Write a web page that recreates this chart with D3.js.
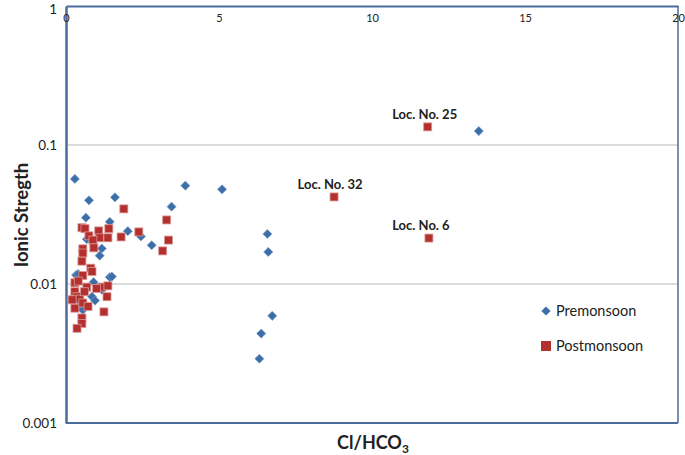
<!DOCTYPE html>
<html><head><meta charset="utf-8">
<script src="https://cdn.jsdelivr.net/npm/d3@7"></script>
<style>body{margin:0;background:#fff}svg{display:block}text{font-family:Lato,"Open Sans",sans-serif}</style>
</head><body><svg id="c" width="685" height="455"></svg>
<script>
const xTicks = [0, 5, 10, 15, 20];
const yTicks = [1, 0.1, 0.01, 0.001];
const yTickLabels = ["1", "0.1", "0.01", "0.001"];
const premX = [0.29,0.75,1.6,0.65,3.9,3.45,5.1,2.02,1.43,2.45,2.8,0.68,1.17,1.1,0.33,0.9,1.43,1.17,0.85,0.42,0.55,0.4,0.95,1.5,0.25,6.58,6.61,6.74,6.38,6.32,13.49];
const premY = [0.057,0.040,0.042,0.030,0.051,0.036,0.048,0.024,0.028,0.022,0.019,0.021,0.018,0.016,0.0116,0.0103,0.0112,0.0091,0.0081,0.0069,0.0065,0.0118,0.0076,0.0113,0.0075,0.0229,0.0170,0.0059,0.0044,0.0029,0.126];
const postX = [11.82,8.76,11.86,1.89,3.29,2.38,3.35,3.16,0.52,0.62,0.75,1.07,1.4,1.1,1.37,1.8,0.88,0.55,0.91,0.55,0.52,0.81,0.55,0.29,0.68,0.29,1.17,1.37,1.34,0.36,0.45,0.29,0.55,0.72,1.24,0.52,0.52,0.36,0.2,0.6,0.85,0.4,1.0];
const postY = [0.135,0.0423,0.0214,0.0347,0.0289,0.0237,0.0207,0.0173,0.0254,0.0250,0.0222,0.0241,0.0250,0.0215,0.0215,0.0218,0.0207,0.0179,0.0182,0.0167,0.0146,0.0130,0.0115,0.0102,0.0095,0.0088,0.0095,0.0097,0.0081,0.0081,0.0078,0.0067,0.0073,0.0069,0.0063,0.0057,0.0052,0.0048,0.0077,0.0088,0.0123,0.0105,0.0093];
const labels = [{t:"Loc. No. 25", x:11.82, y:0.135, dx:-3}, {t:"Loc. No. 32", x:8.76, y:0.0423, dx:-4}, {t:"Loc. No. 6", x:11.86, y:0.0214, dx:-8}];
const seriesNames = ["Premonsoon", "Postmonsoon"];

const svg = d3.select("#c");
const L = 66, R = 678, T = 6, B = 423;
const x = d3.scaleLinear().domain([0, 20]).range([L, R]);
const y = d3.scaleLog().domain([0.001, 1]).range([B, T]);
const blue = "#3d6ea8", red = "#b3302e", axisCol = "#4a6d9c";

// gridlines
svg.append("g").selectAll("line").data([0.1, 0.01]).join("line")
  .attr("x1", L).attr("x2", R).attr("y1", d => y(d)).attr("y2", d => y(d))
  .attr("stroke", "#b8b8b8").attr("stroke-width", 1.2);

// border lines
svg.append("line").attr("x1", L).attr("x2", R).attr("y1", B).attr("y2", B).attr("stroke", axisCol).attr("stroke-width", 2);
svg.append("line").attr("x1", R).attr("x2", R).attr("y1", T).attr("y2", B).attr("stroke", axisCol).attr("stroke-width", 1.5);

// y axis
const yAxis = d3.axisLeft(y).tickValues(yTicks).tickFormat((d, i) => yTickLabels[i]).tickSize(0).tickPadding(9);
const gy = svg.append("g").attr("transform", `translate(${L},0)`).call(yAxis);
gy.select(".domain").attr("stroke", axisCol).attr("stroke-width", 2.5);
gy.selectAll("text").attr("font-size", 13.5).attr("fill", "#222").style("font-family", "Lato, sans-serif");
gy.selectAll(".tick text").filter(d => d === 1).attr("dy", "0.32em").attr("y", 3);

// x axis (top, labels inside)
const xAxis = d3.axisBottom(x).tickValues(xTicks).tickSize(0).tickPadding(8);
const gx = svg.append("g").attr("transform", `translate(0,${T})`).call(xAxis);
gx.select(".domain").attr("stroke", axisCol).attr("stroke-width", 2);
gx.selectAll("text").attr("font-size", 11).attr("fill", "#222").style("font-family", "Lato, sans-serif");

// premonsoon diamonds
const dm = 4.6;
svg.append("g").selectAll("path").data(premX.map((v, i) => [v, premY[i]])).join("path")
  .attr("transform", d => `translate(${x(d[0])},${y(d[1])})`)
  .attr("d", `M0,${-dm}L${dm},0L0,${dm}L${-dm},0Z`)
  .attr("fill", blue).attr("stroke", "#7fa3cf").attr("stroke-width", 0.6);

// postmonsoon squares
const sq = 8;
svg.append("g").selectAll("rect").data(postX.map((v, i) => [v, postY[i]])).join("rect")
  .attr("x", d => x(d[0]) - sq / 2).attr("y", d => y(d[1]) - sq / 2)
  .attr("width", sq).attr("height", sq)
  .attr("fill", red).attr("stroke", "#d99896").attr("stroke-width", 0.8);

// annotations
svg.append("g").selectAll("text").data(labels).join("text")
  .attr("x", d => x(d.x) + d.dx).attr("y", d => y(d.y) - 8)
  .attr("text-anchor", "middle").attr("font-size", 13).attr("font-weight", "bold").attr("fill", "#222")
  .text(d => d.t);

// axis titles
svg.append("text").attr("transform", "translate(28,215) rotate(-90)").attr("text-anchor", "middle")
  .attr("font-size", 18.5).attr("font-weight", "bold").attr("fill", "#222").text("Ionic Stregth");
const xt = svg.append("text").attr("x", 373).attr("y", 449).attr("text-anchor", "middle")
  .attr("font-size", 18).attr("font-weight", "bold").attr("fill", "#222");
xt.append("tspan").text("Cl/HCO");
xt.append("tspan").attr("font-size", 12).attr("dy", 4).text("3");

// legend
const lg = svg.append("g");
lg.append("path").attr("transform", "translate(546,311)").attr("d", `M0,${-dm}L${dm},0L0,${dm}L${-dm},0Z`).attr("fill", blue);
lg.append("rect").attr("x", 541).attr("y", 341).attr("width", 10).attr("height", 10).attr("fill", red);
lg.selectAll("text").data(seriesNames).join("text")
  .attr("x", 556).attr("y", (d, i) => 316 + i * 35).attr("font-size", 14.5).attr("fill", "#222").text(d => d);
</script></body></html>
